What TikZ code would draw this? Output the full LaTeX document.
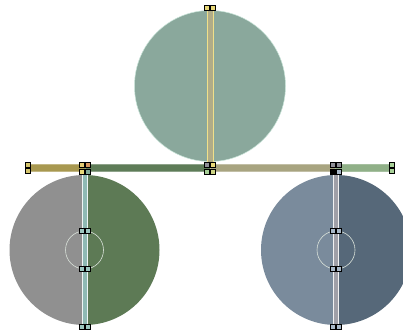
\documentclass[tikz,border=0pt]{standalone}
\definecolor{topc}{HTML}{8AA89C}
\definecolor{topedge}{HTML}{C8E4D8}
\definecolor{barY}{HTML}{F0E08A}
\definecolor{barYin}{HTML}{B0AC88}
\definecolor{hGold}{HTML}{A89850}
\definecolor{hGreen}{HTML}{5E7C58}
\definecolor{hTan}{HTML}{A8A480}
\definecolor{hLight}{HTML}{90B088}
\definecolor{blL}{HTML}{909090}
\definecolor{blR}{HTML}{5D7A55}
\definecolor{blBar}{HTML}{8FBAB4}
\definecolor{brL}{HTML}{7A8B9C}
\definecolor{brR}{HTML}{566879}
\definecolor{brBar}{HTML}{A0A0A8}
\definecolor{ringc}{HTML}{D8E0D8}
\definecolor{hdY}{HTML}{E8D878}
\definecolor{hdT}{HTML}{9CC8C0}
\definecolor{hdB}{HTML}{A8B8C8}
\definecolor{hdO}{HTML}{D89860}
\definecolor{hdG}{HTML}{A8D098}
\definecolor{hdGr}{HTML}{909098}
\begin{document}
\begin{tikzpicture}[x=1pt,y=-1pt,
  handle/.style={draw=black,line width=1pt,minimum size=5pt,inner sep=0pt,outer sep=0pt},
  disc/.style={circle,minimum size=150pt,inner sep=0pt},
  ring/.style={draw=ringc,line width=0.6pt}]
\useasboundingbox (0,0) rectangle (403,334);
\fill[white] (0,0) rectangle (403,334);
% top disc
\node[disc,fill=topc,draw=topedge,line width=0.5pt,minimum size=151pt] (top) at (210,86) {};
% bottom-left disc
\node[disc] (bl) at (84.5,250) {};
\begin{scope}
  \clip (0,0) rectangle (84.5,334);
  \fill[blL] (bl.center) circle[radius=75pt];
\end{scope}
\begin{scope}
  \clip (84.5,0) rectangle (403,334);
  \fill[blR] (bl.center) circle[radius=75pt];
\end{scope}
\node[circle,minimum size=38pt,inner sep=0pt,ring] (blring) at (bl.center) {};
% bottom-right disc
\node[disc] (br) at (336,250) {};
\begin{scope}
  \clip (0,0) rectangle (336,334);
  \fill[brL] (br.center) circle[radius=75pt];
\end{scope}
\begin{scope}
  \clip (336,0) rectangle (420,334);
  \fill[brR] (br.center) circle[radius=75pt];
\end{scope}
\node[circle,minimum size=38pt,inner sep=0pt,ring] (brring) at (br.center) {};
% horizontal beam
\fill[hGold,draw=hGold!70!white,line width=0.5pt] (28,164.5) rectangle (85,171.5);
\fill[hGreen,draw=hGreen!70!white,line width=0.5pt] (85,164.5) rectangle (210,171.5);
\fill[hTan,draw=hTan!70!white,line width=0.5pt] (210,164.5) rectangle (335,171.5);
\fill[hLight,draw=hLight!80!white,line width=0.5pt] (335,164.5) rectangle (392,171.5);
% top bar
\fill[barYin,draw=barY,line width=1pt] (207,8) rectangle (213,166);
% bottom-left bar
\fill[blBar,draw=white!85!blBar,line width=0.8pt] (82,170) rectangle (87.5,327);
% bottom-right bar
\fill[brBar,draw=white!85!brBar,line width=0.8pt] (333.5,170) rectangle (338.5,327);
% handles: top bar
\node[handle,fill=hdY] (t1) at (207,8.5) {};
\node[handle,fill=hdY] (t2) at (213,8.5) {};
% junction middle
\node[handle,fill=hdGr] (m1) at (207,164.5) {};
\node[handle,fill=hdY] (m2) at (213,164.5) {};
\node[handle,fill=hdG] (m3) at (207,171.5) {};
\node[handle,fill=hdY!60!hdG] (m4) at (213,171.5) {};
% junction left
\node[handle,fill=hdY!80!hdO] (a1) at (82,164.5) {};
\node[handle,fill=hdO] (a2) at (88,164.5) {};
\node[handle,fill=hdY] (a3) at (82,171.5) {};
\node[handle,fill=hdT!60!hGreen] (a4) at (88,171.5) {};
% junction right
\node[handle,fill=hdGr] (b1) at (333,164.5) {};
\node[handle,fill=hdGr] (b2) at (339,164.5) {};
\node[handle,fill=black] (b3) at (333,171.5) {};
\node[handle,fill=hdB] (b4) at (339,171.5) {};
% ends
\node[handle,fill=hdY!70!hGold] (l1) at (28,165) {};
\node[handle,fill=hdY!70!hGold] (l2) at (28,171) {};
\node[handle,fill=hdG] (r1) at (392,165) {};
\node[handle,fill=hdG] (r2) at (392,171) {};
% bottom-left bar handles
\node[handle,fill=hdT] (bla1) at (81.5,231) {};
\node[handle,fill=hdT] (bla2) at (87.5,231) {};
\node[handle,fill=hdT] (blb1) at (81.5,269) {};
\node[handle,fill=hdT] (blb2) at (87.5,269) {};
\node[handle,fill=hdT] (blc1) at (81.5,327) {};
\node[handle,fill=hdT] (blc2) at (87.5,327) {};
% bottom-right bar handles
\node[handle,fill=hdB] (bra1) at (333,231) {};
\node[handle,fill=hdB] (bra2) at (339,231) {};
\node[handle,fill=hdB] (brb1) at (333,269) {};
\node[handle,fill=hdB] (brb2) at (339,269) {};
\node[handle,fill=hdB] (brc1) at (333,327) {};
\node[handle,fill=hdB] (brc2) at (339,327) {};
\end{tikzpicture}
\end{document}
